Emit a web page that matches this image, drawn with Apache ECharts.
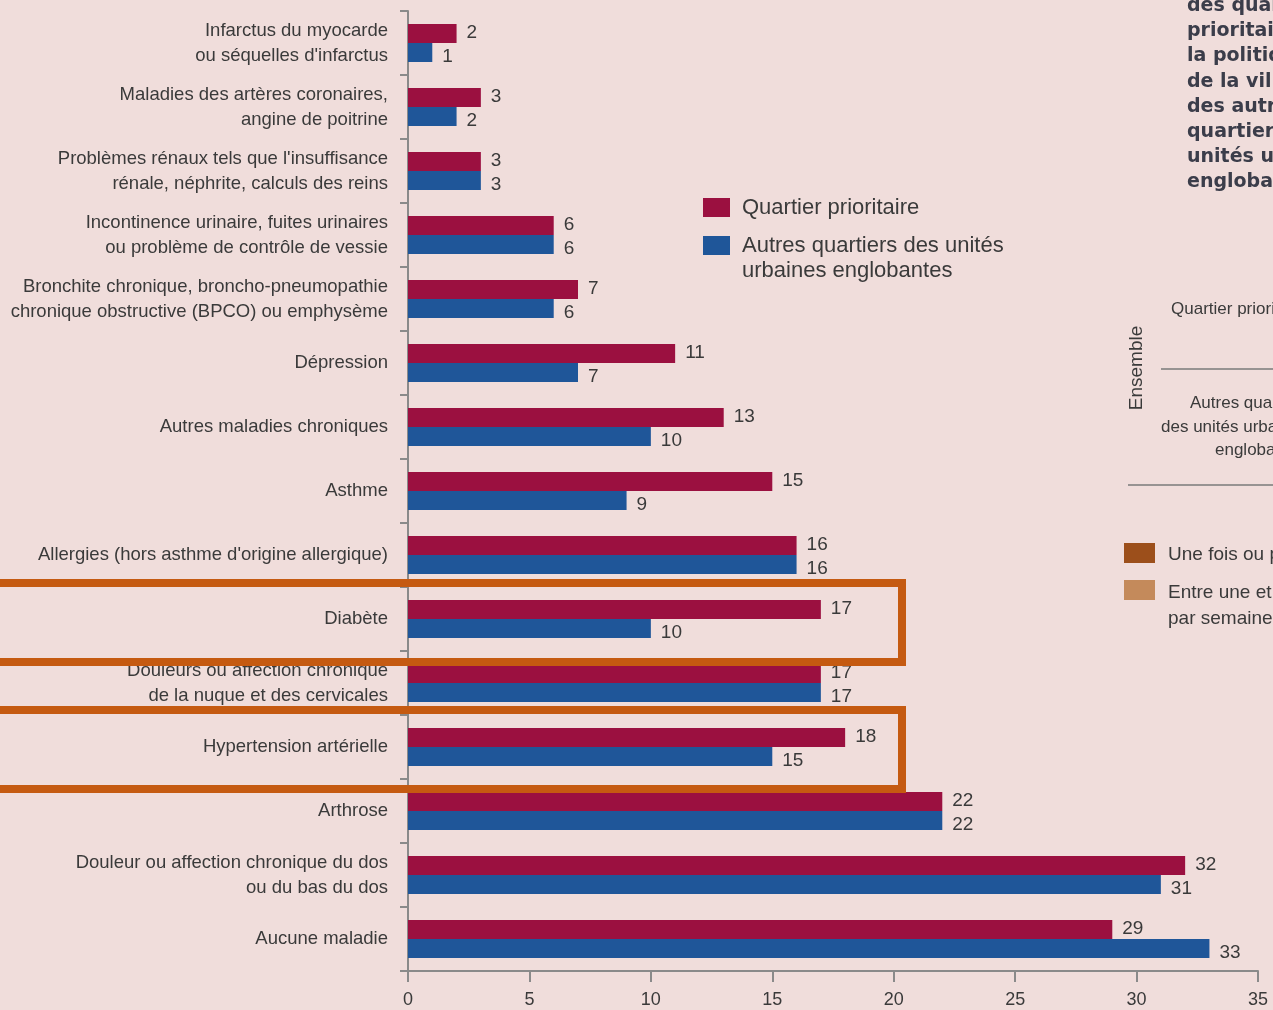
<!DOCTYPE html>
<html>
<head>
<meta charset="utf-8">
<script src="https://cdn.jsdelivr.net/npm/echarts@6/dist/echarts.min.js"></script>
<style>
  html, body { margin: 0; padding: 0; background: #f0dddb; }
  #chart { width: 1273px; height: 1010px; }
</style>
</head>
<body>
<div id="chart"></div>
<script>
// catégories (du haut vers le bas)
var categories = [
    "Infarctus du myocarde\nou séquelles d'infarctus",
    "Maladies des artères coronaires,\nangine de poitrine",
    "Problèmes rénaux tels que l'insuffisance\nrénale, néphrite, calculs des reins",
    "Incontinence urinaire, fuites urinaires\nou problème de contrôle de vessie",
    "Bronchite chronique, broncho-pneumopathie\nchronique obstructive (BPCO) ou emphysème",
    "Dépression",
    "Autres maladies chroniques",
    "Asthme",
    "Allergies (hors asthme d'origine allergique)",
    "Diabète",
    "Douleurs ou affection chronique\nde la nuque et des cervicales",
    "Hypertension artérielle",
    "Arthrose",
    "Douleur ou affection chronique du dos\nou du bas du dos",
    "Aucune maladie"
];
var quartierPrioritaire = [2, 3, 3, 6, 7, 11, 13, 15, 16, 17, 17, 18, 22, 32, 29];
var autresQuartiers = [1, 2, 3, 6, 6, 7, 10, 9, 16, 10, 17, 15, 22, 31, 33];
var serieNames = ["Quartier prioritaire", "Autres quartiers des unités urbaines englobantes"];

// texte du graphique voisin, coupé par le bord droit
var texteDroite = ["des quartiers", "prioritaires de", "la politique", "de la ville et",
    "des autres", "quartiers des", "unités urbaines", "englobantes"];

var FONT = "Liberation Sans";
var RED = "#9b1040";
var BLUE = "#1f5699";
var ORANGE = "#c55a11";
var TXT = "#3a3a3a";

var chart = echarts.init(document.getElementById("chart"));

var graphics = [];
// encadrés orange
graphics.push({ type: "rect", z: 100, shape: { x: -10, y: 583, width: 912, height: 79 },
    style: { fill: "none", stroke: ORANGE, lineWidth: 8 } });
graphics.push({ type: "rect", z: 100, shape: { x: -10, y: 710, width: 912, height: 79 },
    style: { fill: "none", stroke: ORANGE, lineWidth: 8 } });
// texte coupé à droite
for (var i = 0; i < texteDroite.length; i++) {
    graphics.push({ type: "text", x: 1187, y: 6 + i * 25.2,
        style: { text: texteDroite[i], fill: "#3b3d4a", font: "bold 19px 'DejaVu Sans'", verticalAlign: "middle" } });
}
// morceau du graphique voisin
graphics.push({ type: "text", x: 1137, y: 368, rotation: Math.PI / 2,
    style: { text: "Ensemble", fill: TXT, font: "19px 'Liberation Sans'", align: "center", verticalAlign: "middle" } });
graphics.push({ type: "text", x: 1171, y: 309,
    style: { text: "Quartier prioritaire", fill: TXT, font: "17px 'Liberation Sans'", verticalAlign: "middle" } });
graphics.push({ type: "line", shape: { x1: 1161, y1: 369, x2: 1273, y2: 369 },
    style: { stroke: "#7a7a7a", lineWidth: 1.5 } });
graphics.push({ type: "text", x: 1190, y: 403,
    style: { text: "Autres quartiers", fill: TXT, font: "17px 'Liberation Sans'", verticalAlign: "middle" } });
graphics.push({ type: "text", x: 1161, y: 427,
    style: { text: "des unités urbaines", fill: TXT, font: "17px 'Liberation Sans'", verticalAlign: "middle" } });
graphics.push({ type: "text", x: 1215, y: 450,
    style: { text: "englobantes", fill: TXT, font: "17px 'Liberation Sans'", verticalAlign: "middle" } });
graphics.push({ type: "line", shape: { x1: 1128, y1: 485, x2: 1273, y2: 485 },
    style: { stroke: "#7a7a7a", lineWidth: 1.5 } });
graphics.push({ type: "rect", shape: { x: 1124, y: 543, width: 31, height: 20 }, style: { fill: "#9c4f1b" } });
graphics.push({ type: "text", x: 1168, y: 555,
    style: { text: "Une fois ou plus", fill: TXT, font: "19px 'Liberation Sans'", verticalAlign: "middle" } });
graphics.push({ type: "rect", shape: { x: 1124, y: 580, width: 31, height: 20 }, style: { fill: "#c48a5b" } });
graphics.push({ type: "text", x: 1168, y: 593,
    style: { text: "Entre une et", fill: TXT, font: "19px 'Liberation Sans'", verticalAlign: "middle" } });
graphics.push({ type: "text", x: 1168, y: 619,
    style: { text: "par semaine", fill: TXT, font: "19px 'Liberation Sans'", verticalAlign: "middle" } });

function valueLabel(dy) {
    return {
        show: true,
        position: "right",
        distance: 10,
        offset: [0, dy],
        color: TXT,
        fontFamily: FONT,
        fontSize: 19
    };
}

var legendText = { color: TXT, fontFamily: FONT, fontSize: 22, lineHeight: 25, padding: [0, 0, 0, 7] };

chart.setOption({
    backgroundColor: "#f0dddb",
    animation: false,
    grid: { left: 408, right: 15, top: 11, bottom: 39, containLabel: false, outerBoundsMode: "none" },
    legend: [
        {
            data: [serieNames[0]],
            orient: "vertical",
            left: 703, top: 195, padding: 0,
            itemWidth: 27, itemHeight: 19,
            icon: "rect",
            textStyle: legendText
        },
        {
            data: [serieNames[1]],
            orient: "vertical",
            left: 703, top: 208, padding: 0,
            itemWidth: 27, itemHeight: 19,
            icon: "rect",
            // ligne vide en tête : la 1re ligne reste centrée sur le carré
            formatter: function () { return "\nAutres quartiers des unités\nurbaines englobantes"; },
            textStyle: legendText
        }
    ],
    xAxis: {
        type: "value",
        min: 0, max: 35, interval: 5,
        splitLine: { show: false },
        axisLine: { show: true, lineStyle: { color: "#8a8a8a", width: 2 } },
        axisTick: { show: true, length: 11, lineStyle: { color: "#8a8a8a", width: 2 } },
        axisLabel: { color: TXT, fontFamily: FONT, fontSize: 18, margin: 20 }
    },
    yAxis: {
        type: "category",
        inverse: true,
        data: categories,
        axisLine: { show: true, lineStyle: { color: "#8a8a8a", width: 2 } },
        axisTick: { show: true, length: 8, lineStyle: { color: "#8a8a8a", width: 2 } },
        axisLabel: { color: TXT, fontFamily: FONT, fontSize: 18.5, lineHeight: 25, margin: 20, align: "right" }
    },
    series: [
        {
            name: serieNames[0],
            type: "bar",
            data: quartierPrioritaire,
            barWidth: 19,
            barGap: "0%",
            itemStyle: { color: RED },
            label: valueLabel(-1)
        },
        {
            name: serieNames[1],
            type: "bar",
            data: autresQuartiers,
            barWidth: 19,
            barGap: "0%",
            itemStyle: { color: BLUE },
            label: valueLabel(4)
        }
    ],
    graphic: graphics
});

window.addEventListener("resize", function () {
    chart.resize();
});
</script>
</body>
</html>
